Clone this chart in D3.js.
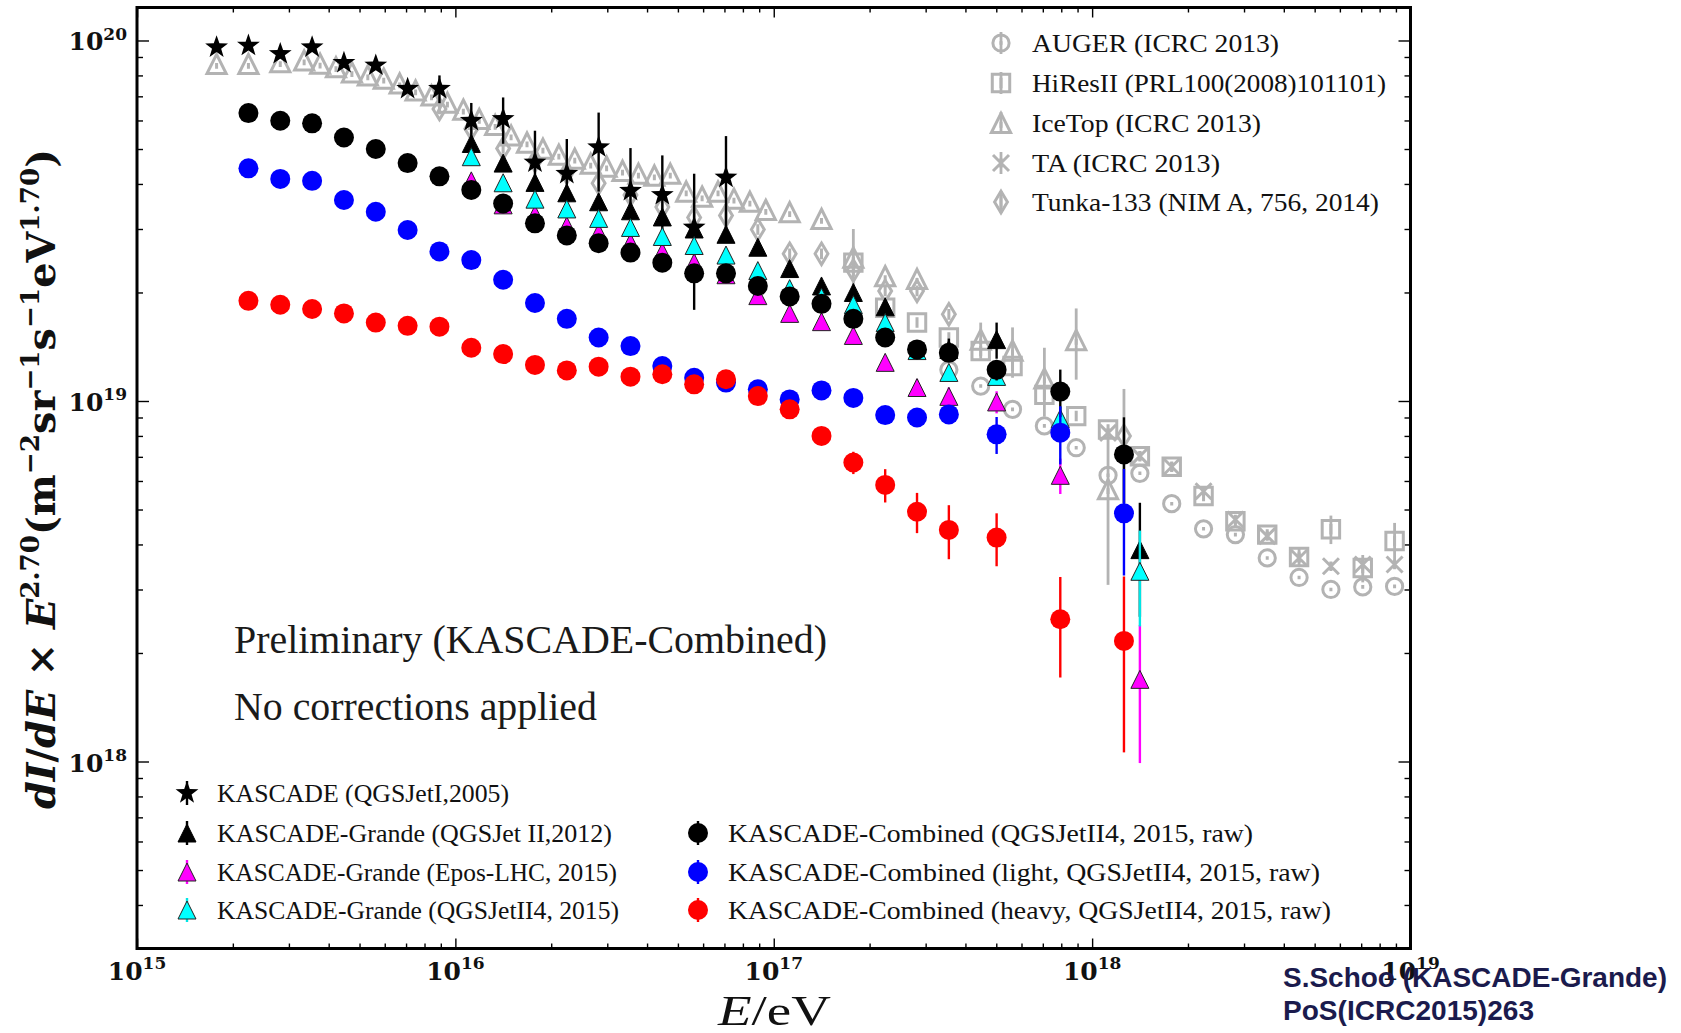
<!DOCTYPE html>
<html>
<head>
<meta charset="utf-8">
<script src="https://cdn.jsdelivr.net/npm/d3@7"></script>
<style>
  body { margin: 0; background: #fff; }
  svg text { font-family: "Liberation Serif", serif; fill: #111; }
</style>
</head>
<body>
<svg id="chart" width="1681" height="1033"></svg>
<script>
// ---- data (energies as log10(E/eV), fluxes in units of 1e19) ----
const kascadeLgE = [15.25,15.35,15.45,15.55,15.65,15.75,15.85,15.95,16.05,16.15,16.25,16.35,16.45,16.55,16.65,16.75,16.85];
const kascadeFlux = [9.58,9.68,9.18,9.58,8.67,8.53,7.35,7.35,5.99,6.06,4.59,4.27,5.06,3.83,3.73,3.03,4.17];
const kascadeErr = [0,0,0,0,0,0,0,0.65,0.72,0.89,1.03,1.06,1.25,1.2,1.07,1.24,1.26];

const grande2012LgE = [16.05,16.15,16.25,16.35,16.45,16.55,16.65,16.75,16.85,16.95,17.05,17.15,17.25,17.35,17.55,17.70,18.15];
const grande2012Flux = [5.18,4.57,4.04,3.78,3.57,3.37,3.24,3.00,2.90,2.67,2.33,2.085,2.00,1.825,1.39,1.48,0.387];
const grande2012Err = [0.03,0.03,0.03,0.03,0.03,0.03,0.03,0.04,0.04,0.04,0.04,0.05,0.05,0.06,0.1,0.17,0.135];

const grande2015LgE = [16.05,16.15,16.25,16.35,16.45,16.55,16.65,16.75,16.85,16.95,17.05,17.15,17.25,17.35,17.45,17.55,17.70,17.90,18.15];
const eposFlux = [4.08,3.50,3.29,3.06,2.93,2.75,2.59,2.42,2.24,1.96,1.75,1.66,1.52,1.28,1.09,1.03,0.994,0.622,0.169];
const eposErr = [0.02,0.02,0.02,0.02,0.02,0.02,0.02,0.03,0.03,0.03,0.03,0.03,0.04,0.05,0.06,0.06,0.07,0.07,0.07];
const qgs4Flux = [4.76,4.03,3.63,3.41,3.21,3.03,2.86,2.70,2.54,2.30,2.05,1.94,1.85,1.65,1.38,1.20,1.17,0.894,0.337];
const qgs4Err = [0.02,0.02,0.02,0.02,0.02,0.02,0.02,0.03,0.03,0.03,0.03,0.03,0.04,0.05,0.05,0.06,0.06,0.07,0.10];

const combinedLgE = [15.35,15.45,15.55,15.65,15.75,15.85,15.95,16.05,16.15,16.25,16.35,16.45,16.55,16.65,16.75,16.85,16.95,17.05,17.15,17.25,17.35,17.45,17.55,17.70,17.90,18.10];
const allFlux = [6.29,5.99,5.89,5.38,5.00,4.57,4.20,3.85,3.53,3.11,2.88,2.74,2.58,2.42,2.26,2.26,2.085,1.95,1.86,1.69,1.50,1.39,1.36,1.22,1.062,0.711];
const allErr = [0,0,0,0,0,0,0,0,0,0,0,0,0,0,0.02,0.03,0.03,0.03,0.03,0.03,0.04,0.05,0.06,0.08,0.16,0.19];
const lightFlux = [4.42,4.13,4.08,3.61,3.35,2.98,2.60,2.46,2.17,1.87,1.69,1.50,1.42,1.25,1.16,1.125,1.078,1.01,1.07,1.02,0.914,0.90,0.918,0.808,0.817,0.488];
const lightErr = [0,0,0,0,0,0,0,0,0,0,0,0,0,0,0,0,0.02,0.02,0.03,0.03,0.05,0.05,0.05,0.095,0.15,0.16];
const heavyFlux = [1.896,1.849,1.80,1.75,1.65,1.616,1.608,1.405,1.349,1.259,1.216,1.245,1.168,1.186,1.112,1.149,1.032,0.948,0.80,0.675,0.585,0.493,0.439,0.418,0.248,0.216];
const heavyErr = [0,0,0,0,0,0,0,0,0,0,0,0,0,0,0,0,0.01,0.02,0.03,0.048,0.062,0.063,0.075,0.07,0.077,0.11];

const iceTopLgE = [15.25,15.35,15.45,15.525,15.575,15.625,15.675,15.725,15.775,15.825,15.875,15.925,15.975,16.025,16.075,16.125,16.175,16.225,16.275,16.325,16.375,16.425,16.475,16.525,16.575,16.625,16.675,16.725,16.775,16.825,16.875,16.925,16.975,17.05,17.15,17.25,17.35,17.45,17.65,17.75,17.85,17.95,18.05];
const iceTopFlux = [8.61,8.61,8.71,8.80,8.62,8.43,8.16,8.00,7.84,7.60,7.27,7.04,6.72,6.43,6.06,5.83,5.45,5.21,5.01,4.82,4.70,4.55,4.47,4.35,4.27,4.22,4.27,3.81,3.69,3.81,3.64,3.57,3.39,3.34,3.20,2.50,2.22,2.18,1.48,1.38,1.155,1.476,0.569];
const iceTopErr = [0,0,0,0,0,0,0,0,0,0,0,0,0,0,0,0,0,0,0,0,0,0,0,0,0,0,0,0,0,0,0,0,0,0,0,0.5,0,0,0.17,0.22,0.25,0.33,0.26];

const tunkaLgE = [15.95,16.05,16.15,16.25,16.35,16.45,16.55,16.65,16.75,16.85,16.95,17.05,17.15,17.25,17.35,17.45,17.55,18.10];
const tunkaFlux = [6.46,5.69,5.02,4.64,4.30,4.02,3.73,3.45,3.23,3.27,2.99,2.56,2.56,2.30,2.02,2.02,1.74,0.80];
const tunkaErr = [0,0,0,0,0,0,0,0,0,0,0,0,0,0,0,0,0,0.28];

const hiresLgE = [17.25,17.35,17.45,17.55,17.65,17.75,17.85,17.95,18.05,18.15,18.25,18.35,18.45,18.55,18.65,18.75,18.85,18.95];
const hiresFlux = [2.42,1.815,1.65,1.50,1.377,1.25,1.04,0.908,0.834,0.703,0.657,0.545,0.464,0.426,0.369,0.441,0.344,0.409];
const hiresErr = [0.05,0,0,0,0,0,0,0,0,0,0,0,0,0,0.02,0.04,0.03,0.05];

const augerLgE = [17.55,17.65,17.75,17.85,17.95,18.05,18.15,18.25,18.35,18.45,18.55,18.65,18.75,18.85,18.95];
const augerFlux = [1.22,1.10,0.948,0.853,0.742,0.622,0.630,0.519,0.442,0.426,0.367,0.324,0.300,0.305,0.306];

const taLgE = [18.05,18.15,18.25,18.35,18.45,18.55,18.65,18.75,18.85,18.95];
const taFlux = [0.816,0.703,0.657,0.562,0.469,0.422,0.367,0.348,0.352,0.352];

const xTickExp = [15, 16, 17, 18, 19];
const yTickExp = [18, 19, 20];

const grayNames = ["AUGER (ICRC 2013)", "HiResII (PRL100(2008)101101)", "IceTop (ICRC 2013)", "TA (ICRC 2013)", "Tunka-133 (NIM A, 756, 2014)"];
const colorNames = ["KASCADE (QGSJetI,2005)", "KASCADE-Grande (QGSJet II,2012)", "KASCADE-Grande (Epos-LHC, 2015)", "KASCADE-Grande (QGSJetII4, 2015)",
  "KASCADE-Combined (QGSJetII4, 2015, raw)", "KASCADE-Combined (light, QGSJetII4, 2015, raw)", "KASCADE-Combined (heavy, QGSJetII4, 2015, raw)"];

// ---- layout ----
const M = {left: 137, right: 1410.5, top: 7.5, bottom: 948.5};
const GRAY = "#b3b3b3";
const svg = d3.select("#chart");

const x = d3.scaleLog().domain([1e15, 1e19]).range([M.left, M.right]);
const y = d3.scaleLog().domain([Math.pow(10, 17.4813), Math.pow(10, 20.0915)]).range([M.bottom, M.top]).clamp(true);

// ---- marker shapes (R = sqrt(size)) ----
function sym(drawFn) { return {draw(ctx, size) { drawFn(ctx, Math.sqrt(size)); }}; }
const starSym = sym((c, R) => {
  for (let i = 0; i < 10; i++) {
    const a = -Math.PI / 2 + i * Math.PI / 5, r = i % 2 ? R * 0.4 : R;
    i ? c.lineTo(r * Math.cos(a), r * Math.sin(a)) : c.moveTo(r * Math.cos(a), r * Math.sin(a));
  }
  c.closePath();
});
const triSym = sym((c, R) => { c.moveTo(0, -R); c.lineTo(R, R); c.lineTo(-R, R); c.closePath(); });
const circSym = sym((c, R) => { c.moveTo(R, 0); c.arc(0, 0, R, 0, 2 * Math.PI); });
const gCirc = sym((c, R) => { c.moveTo(R, 0); c.arc(0, 0, R, 0, 2 * Math.PI); c.moveTo(0, -R * 0.22); c.lineTo(0, R * 0.22); });
const gSquare = sym((c, R) => { c.rect(-R, -R, 2 * R, 2 * R); c.moveTo(0, -R * 0.6); c.lineTo(0, R * 0.6); });
const gTri = sym((c, R) => { c.moveTo(0, -R); c.lineTo(R, R); c.lineTo(-R, R); c.closePath(); c.moveTo(0, -R * 0.1); c.lineTo(0, R * 0.5); });
const gX = sym((c, R) => { c.moveTo(-R, -R); c.lineTo(R, R); c.moveTo(-R, R); c.lineTo(R, -R); c.moveTo(0, -R * 0.6); c.lineTo(0, R * 0.6); });
const gDiam = sym((c, R) => { c.moveTo(0, -R); c.lineTo(R * 0.6, 0); c.lineTo(0, R); c.lineTo(-R * 0.6, 0); c.closePath(); c.moveTo(0, -R * 0.5); c.lineTo(0, R * 0.5); });

// series tables built from the arrays
const graySeries = [
  {name: grayNames[2], lgE: iceTopLgE, flux: iceTopFlux, err: iceTopErr, type: gTri, size: 92},
  {name: grayNames[4], lgE: tunkaLgE, flux: tunkaFlux, err: tunkaErr, type: gDiam, size: 115},
  {name: grayNames[1], lgE: hiresLgE, flux: hiresFlux, err: hiresErr, type: gSquare, size: 76},
  {name: grayNames[0], lgE: augerLgE, flux: augerFlux, err: null, type: gCirc, size: 66},
  {name: grayNames[3], lgE: taLgE, flux: taFlux, err: null, type: gX, size: 64}
];
const grayLegendOrder = [3, 2, 0, 4, 1];

const colorSeries = [
  {name: colorNames[0], lgE: kascadeLgE, flux: kascadeFlux, err: kascadeErr, type: starSym, size: 144, fill: "#000", bar: "#000", stroke: "none"},
  {name: colorNames[1], lgE: grande2012LgE, flux: grande2012Flux, err: grande2012Err, type: triSym, size: 81, fill: "#000", bar: "#000", stroke: "#000"},
  {name: colorNames[2], lgE: grande2015LgE, flux: eposFlux, err: eposErr, type: triSym, size: 81, fill: "#ff00ff", bar: "#ff00ff", stroke: "#222"},
  {name: colorNames[3], lgE: grande2015LgE, flux: qgs4Flux, err: qgs4Err, type: triSym, size: 81, fill: "#00ffff", bar: "#00e5e5", stroke: "#222"},
  {name: colorNames[4], lgE: combinedLgE, flux: allFlux, err: allErr, type: circSym, size: 100, fill: "#000", bar: "#000", stroke: "none"},
  {name: colorNames[5], lgE: combinedLgE, flux: lightFlux, err: lightErr, type: circSym, size: 100, fill: "#0000ff", bar: "#0000ff", stroke: "none"},
  {name: colorNames[6], lgE: combinedLgE, flux: heavyFlux, err: heavyErr, type: circSym, size: 100, fill: "#ff0000", bar: "#ff0000", stroke: "none"}
];

// ---- axes ----
const minorVals = [];
xTickExp.slice(0, -1).forEach(e => { for (let m = 2; m <= 9; m++) minorVals.push(m * Math.pow(10, e)); });
const yMinor = [];
[17, 18, 19, 20].forEach(e => { for (let m = 2; m <= 9; m++) { const v = m * Math.pow(10, e); if (v > y.domain()[0] && v < y.domain()[1]) yMinor.push(v); } });
const xMajor = xTickExp.map(e => Math.pow(10, e));
const yMajor = yTickExp.map(e => Math.pow(10, e));

function axisG(axis, tx, ty) {
  const g = svg.append("g").attr("transform", `translate(${tx},${ty})`).call(axis);
  g.select(".domain").remove();
  g.selectAll(".tick line").attr("stroke", "#000").attr("stroke-width", 1.4);
  g.selectAll(".tick text").remove();
  return g;
}
axisG(d3.axisBottom(x).tickValues(xMajor).tickSize(-10), 0, M.bottom);
axisG(d3.axisBottom(x).tickValues(minorVals).tickSize(-5), 0, M.bottom);
axisG(d3.axisTop(x).tickValues(xMajor).tickSize(-10), 0, M.top);
axisG(d3.axisTop(x).tickValues(minorVals).tickSize(-5), 0, M.top);
axisG(d3.axisLeft(y).tickValues(yMajor).tickSize(-12), M.left, 0);
axisG(d3.axisLeft(y).tickValues(yMinor).tickSize(-6), M.left, 0);
axisG(d3.axisRight(y).tickValues(yMajor).tickSize(-12), M.right, 0);
axisG(d3.axisRight(y).tickValues(yMinor).tickSize(-6), M.right, 0);

function powLabel(sel, e) {
  sel.style("font-family", "'DejaVu Serif', serif").style("font-weight", "bold").style("font-size", "25px");
  sel.append("tspan").text("10");
  sel.append("tspan").attr("dy", "-0.62em").style("font-size", "0.68em").text(e);
}
xTickExp.forEach(e => powLabel(svg.append("text").attr("x", x(Math.pow(10, e))).attr("y", 980).attr("text-anchor", "middle"), e));
yTickExp.forEach(e => powLabel(svg.append("text").attr("x", 127).attr("y", y(Math.pow(10, e)) + 10).attr("text-anchor", "end"), e));

// ---- data marks ----
const plot = svg.append("g");
function drawSeries(s, gray) {
  const pts = s.lgE.map((e, i) => ({E: Math.pow(10, e), v: s.flux[i] * 1e19, err: s.err ? s.err[i] * 1e19 : 0}));
  const g = plot.append("g");
  g.selectAll("line").data(pts.filter(d => d.err > 0)).join("line")
    .attr("x1", d => x(d.E)).attr("x2", d => x(d.E))
    .attr("y1", d => y(d.v + d.err)).attr("y2", d => y(Math.max(d.v - d.err, 1e17)))
    .attr("stroke", gray ? GRAY : s.bar).attr("stroke-width", gray ? 2.8 : 2.4);
  g.selectAll("path").data(pts).join("path")
    .attr("transform", d => `translate(${x(d.E)},${y(d.v)})`)
    .attr("d", d3.symbol().type(s.type).size(s.size))
    .attr("fill", gray ? "none" : s.fill)
    .attr("stroke", gray ? GRAY : s.stroke)
    .attr("stroke-width", gray ? 3 : 1);
}
graySeries.forEach(s => drawSeries(s, true));
colorSeries.forEach(s => drawSeries(s, false));

// frame
svg.append("rect").attr("x", M.left).attr("y", M.top).attr("width", M.right - M.left).attr("height", M.bottom - M.top)
  .attr("fill", "none").attr("stroke", "#000").attr("stroke-width", 3);

// ---- legends ----
const grayRowsY = [43, 83, 123, 163, 202];
const grayWidths = [247, 354, 229, 188, 347];
grayLegendOrder.forEach((si, r) => {
  const s = graySeries[si], cy = grayRowsY[r];
  svg.append("line").attr("x1", 1001).attr("x2", 1001).attr("y1", cy - 11).attr("y2", cy + 11).attr("stroke", GRAY).attr("stroke-width", 2.8);
  svg.append("path").attr("transform", `translate(1001,${cy})`).attr("d", d3.symbol().type(s.type).size(s.size))
    .attr("fill", "none").attr("stroke", GRAY).attr("stroke-width", 3);
  svg.append("text").attr("x", 1032).attr("y", cy + 9).style("font-size", "25px")
    .attr("textLength", grayWidths[r]).attr("lengthAdjust", "spacingAndGlyphs").text(s.name);
});

const colorLegendPos = [
  {x: 187, y: 793, w: 292}, {x: 187, y: 833, w: 395}, {x: 187, y: 872, w: 400}, {x: 187, y: 910, w: 402},
  {x: 698, y: 833, w: 525}, {x: 698, y: 872, w: 592}, {x: 698, y: 910, w: 603}
];
colorSeries.forEach((s, i) => {
  const p = colorLegendPos[i];
  svg.append("line").attr("x1", p.x).attr("x2", p.x).attr("y1", p.y - 12).attr("y2", p.y + 12).attr("stroke", s.bar).attr("stroke-width", 2.4);
  svg.append("path").attr("transform", `translate(${p.x},${p.y})`).attr("d", d3.symbol().type(s.type).size(s.size))
    .attr("fill", s.fill).attr("stroke", s.stroke).attr("stroke-width", 1);
  svg.append("text").attr("x", p.x + 30).attr("y", p.y + 9).style("font-size", "26px")
    .attr("textLength", p.w).attr("lengthAdjust", "spacingAndGlyphs").text(s.name);
});

// ---- annotations ----
svg.append("text").attr("x", 234).attr("y", 653).style("font-size", "39px").style("fill", "#1a1a1a")
  .attr("textLength", 593).attr("lengthAdjust", "spacingAndGlyphs").text("Preliminary (KASCADE-Combined)");
svg.append("text").attr("x", 234).attr("y", 720).style("font-size", "39px").style("fill", "#1a1a1a")
  .attr("textLength", 363).attr("lengthAdjust", "spacingAndGlyphs").text("No corrections applied");

// x label
const xl = svg.append("text").attr("x", 718).attr("y", 1025).style("font-size", "42px")
  .attr("textLength", 113).attr("lengthAdjust", "spacingAndGlyphs");
xl.append("tspan").style("font-style", "italic").text("E");
xl.append("tspan").text("/eV");

// y label: superscripts raise, the following part drops back
const yl = svg.append("text").attr("transform", "translate(55,479) rotate(-90)").attr("text-anchor", "middle")
  .style("font-family", "'DejaVu Serif', serif").style("font-weight", "bold").style("font-size", "30px");
let ylRaised = false;
function ylPart(t, italic) {
  const ts = yl.append("tspan").style("font-style", italic ? "italic" : "normal").text(t);
  if (ylRaised) { ts.attr("dy", "0.41em"); ylRaised = false; }
}
function ylSup(t) {
  yl.append("tspan").attr("dy", "-0.62em").style("font-size", "0.66em").text(t);
  ylRaised = true;
}
ylPart("dI", true); ylPart("/", false); ylPart("dE", true); ylPart(" \u00D7 ", false); ylPart("E", true);
ylSup("2.70"); ylPart("(m", false); ylSup("\u22122"); ylPart("sr", false); ylSup("\u22121");
ylPart("s", false); ylSup("\u22121"); ylPart("eV", false); ylSup("1.70"); ylPart(")", false);
const ylLen = yl.node().getComputedTextLength();
yl.style("font-size", (30 * 660 / ylLen) + "px");

// credit
svg.append("text").attr("x", 1283).attr("y", 987).style("font-family", "'Liberation Sans', Arial, sans-serif")
  .style("font-weight", "bold").style("font-size", "28px").style("fill", "#1b1b4d")
  .attr("textLength", 384).attr("lengthAdjust", "spacingAndGlyphs").text("S.Schoo (KASCADE-Grande)");
svg.append("text").attr("x", 1283).attr("y", 1020).style("font-family", "'Liberation Sans', Arial, sans-serif")
  .style("font-weight", "bold").style("font-size", "28px").style("fill", "#1b1b4d")
  .attr("textLength", 251).attr("lengthAdjust", "spacingAndGlyphs").text("PoS(ICRC2015)263");
</script>
</body>
</html>
